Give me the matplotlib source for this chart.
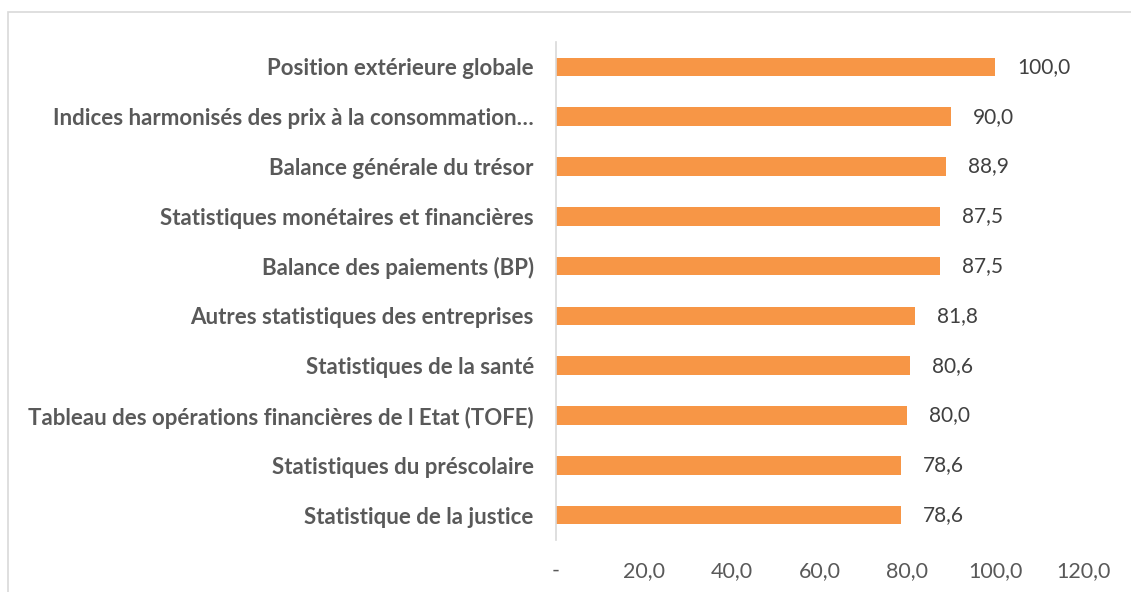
import matplotlib.pyplot as plt
from matplotlib.patches import Rectangle

# Données du graphique
categories = [
    "Position extérieure globale",
    "Indices harmonisés des prix à la consommation…",
    "Balance générale du trésor",
    "Statistiques monétaires et financières",
    "Balance des paiements (BP)",
    "Autres statistiques des entreprises",
    "Statistiques de la santé",
    "Tableau des opérations financières de l Etat (TOFE)",
    "Statistiques du préscolaire",
    "Statistique de la justice",
]
valeurs = [100.0, 90.0, 88.9, 87.5, 87.5, 81.8, 80.6, 80.0, 78.6, 78.6]
ticks = [0, 20, 40, 60, 80, 100, 120]
tick_labels = ["-", "20,0", "40,0", "60,0", "80,0", "100,0", "120,0"]

plt.rcParams['font.family'] = ['Lato', 'DejaVu Sans']

fig = plt.figure(figsize=(11.31, 5.92), dpi=100)
# cadre du graphique
fig.patches.append(Rectangle((8 / 1131, -0.1), 1.2, 1.1 - 12 / 592,
                             transform=fig.transFigure, fill=False,
                             edgecolor='#d9d9d9', linewidth=1.2))

ax = fig.add_axes([556 / 1131, 52 / 592, 527 / 1131, 498 / 592])
y = list(range(len(categories)))[::-1]
ax.barh(y, valeurs, height=0.37, color='#F79646')

for yi, v in zip(y, valeurs):
    ax.text(v + 5, yi, f"{v:.1f}".replace('.', ','), va='center', ha='left',
            fontsize=15, color='#404040')

ax.set_yticks(y)
ax.set_yticklabels(categories, fontsize=16, fontweight='bold', color='#595959')
ax.set_xticks(ticks)
ax.set_xticklabels(tick_labels, fontsize=15.5, color='#595959')
ax.set_xlim(0, 120)
ax.set_ylim(-0.5, len(categories) - 0.5)
ax.tick_params(axis='both', length=0)
ax.tick_params(axis='y', pad=16)
ax.tick_params(axis='x', pad=15)
for s in ['top', 'right', 'bottom']:
    ax.spines[s].set_visible(False)
ax.spines['left'].set_color('#d9d9d9')
ax.spines['left'].set_linewidth(1.2)

fig.savefig('out.png', dpi=100)
